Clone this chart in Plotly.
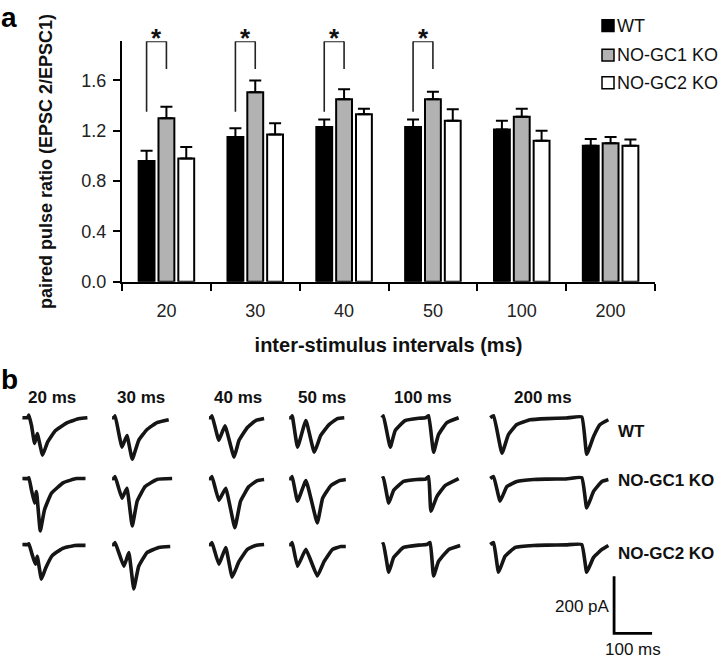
import plotly.graph_objects as go

# ---------------- data: panel a ----------------
intervals = ["20", "30", "40", "50", "100", "200"]
genotypes = ["WT", "NO-GC1 KO", "NO-GC2 KO"]
wt_mean = [0.96, 1.15, 1.23, 1.23, 1.21, 1.08]
wt_sem = [0.08, 0.07, 0.06, 0.06, 0.07, 0.055]
gc1_mean = [1.30, 1.505, 1.45, 1.45, 1.31, 1.10]
gc1_sem = [0.09, 0.095, 0.08, 0.06, 0.065, 0.05]
gc2_mean = [0.98, 1.17, 1.33, 1.28, 1.12, 1.08]
gc2_sem = [0.09, 0.09, 0.045, 0.09, 0.08, 0.05]
significant = ["20", "30", "40", "50"]  # WT vs NO-GC1 KO, p<0.05
y_ticks = [0.0, 0.4, 0.8, 1.2, 1.6]

# ---------------- data: panel b (example traces, ms / pA rel. to baseline) ----------------
trace_t = {
    "20": [[0, 14, 17, 24, 32, 39, 53, 66, 87, 118, 150, 171],
           [0, 14, 17, 24, 32, 37, 47, 58, 76, 108, 142, 166],
           [0, 14, 17, 24, 34, 39, 50, 61, 79, 105, 137, 166]],
    "30": [[0, 5, 8, 26, 39, 53, 70, 92, 118, 149],
           [0, 5, 8, 26, 39, 53, 66, 87, 118, 158],
           [0, 5, 8, 31, 44, 57, 70, 92, 123, 153]],
    "40": [[0, 5, 8, 26, 42, 66, 79, 101, 123, 145],
           [0, 5, 8, 26, 44, 68, 83, 105, 127, 145],
           [0, 5, 8, 26, 44, 61, 79, 101, 123, 145]],
    "50": [[0, 5, 8, 22, 44, 66, 83, 105, 127, 145],
           [0, 5, 8, 22, 44, 74, 88, 110, 132, 149],
           [0, 5, 8, 22, 44, 74, 92, 114, 136, 149]],
    "100": [[0, 4, 22, 35, 61, 97, 115, 123, 136, 149, 171, 202],
            [0, 4, 18, 31, 57, 92, 115, 123, 129, 145, 167, 202],
            [0, 4, 18, 31, 57, 97, 118, 127, 136, 149, 176, 206]],
    "200": [[0, 9, 31, 48, 70, 105, 150, 200, 241, 254, 272, 289, 311],
            [0, 9, 26, 44, 70, 114, 150, 200, 241, 254, 272, 294, 311],
            [0, 9, 22, 39, 66, 114, 150, 200, 241, 254, 272, 294, 311]],
}
trace_i = {
    "20": [[0, 0, 9, -28, -90, -55, -131, -86, -45, -17, -3, 0],
           [0, 0, 3, -41, -86, -45, -183, -110, -52, -14, 0, 0],
           [0, 0, 3, -28, -69, -41, -121, -83, -38, -14, -3, -3]],
    "30": [[0, 0, 7, -103, -62, -145, -79, -41, -17, -7],
           [0, 0, 7, -69, -34, -166, -79, -28, -3, 0],
           [0, 0, 7, -76, -28, -155, -76, -28, -10, -7]],
    "40": [[0, 0, 7, -79, -28, -138, -79, -34, -10, -3],
           [0, 0, 7, -76, -34, -172, -79, -28, -7, -3],
           [0, 0, 7, -69, -10, -114, -59, -17, -3, 0]],
    "50": [[0, 0, 7, -103, -10, -121, -62, -24, -3, 0],
           [0, 0, 7, -79, -7, -155, -69, -24, -7, -3],
           [0, 0, 7, -76, -17, -110, -59, -17, -7, -7]],
    "100": [[0, 7, -103, -45, -10, -2, 0, 7, -121, -59, -17, 0],
            [0, 3, -86, -41, -10, -3, -2, 7, -114, -62, -24, 0],
            [0, 3, -97, -45, -10, -2, 0, 7, -110, -59, -17, -3]],
    "200": [[0, 7, -124, -59, -24, -7, -3, -1, 3, -128, -66, -24, -7],
            [0, 7, -79, -28, -10, -3, -2, -1, 3, -103, -45, -10, -3],
            [0, 7, -97, -41, -10, -3, -2, -1, 0, -97, -45, -17, -3]],
}
scale_pA = 200
scale_ms = 100

# ---------------- layout constants ----------------
W, H = 720, 667
FONT = "Liberation Sans, Arial, sans-serif"
bargap, bargroupgap = 0.33, 0.2
slot = (1 - bargap) / 3

def px_x(p):
    return p / W

def px_y(p):
    return 1 - p / H

# panel b coordinate system (ms horizontally, pA vertically)
MS_PER_PX = 100 / 38.0
PA_PER_PX = 200 / 58.0
b_top_px = 360
col_start_ms = [59, 295, 550, 761, 1005, 1290]
row_base_pA = [-221, -434, -665]

fig = go.Figure()

colors = ["#000000", "#b2b2b2", "#ffffff"]
for name, mean, sem, col in zip(genotypes, [wt_mean, gc1_mean, gc2_mean],
                                [wt_sem, gc1_sem, gc2_sem], colors):
    fig.add_trace(go.Bar(
        x=intervals, y=mean, name=name,
        marker=dict(color=col, line=dict(color="#000000", width=2)),
        error_y=dict(type="data", symmetric=False, array=sem,
                     arrayminus=[0] * len(sem), color="#000000",
                     thickness=2, width=6),
        xaxis="x", yaxis="y", showlegend=False,
    ))

# significance brackets
shapes = []
annotations = []
for cat in significant:
    k = intervals.index(cat)
    xl, xr = k - slot, k
    shapes.append(dict(type="line", xref="x", yref="y", x0=xl, x1=xl, y0=1.35, y1=1.91,
                       line=dict(color="#222", width=1.6)))
    shapes.append(dict(type="line", xref="x", yref="y", x0=xl, x1=xr, y0=1.91, y1=1.91,
                       line=dict(color="#222", width=1.6)))
    shapes.append(dict(type="line", xref="x", yref="y", x0=xr, x1=xr, y0=1.91, y1=1.69,
                       line=dict(color="#222", width=1.6)))
    annotations.append(dict(text="<b>*</b>", x=(xl + xr) / 2, y=1.91, xref="x", yref="y",
                            showarrow=False, yanchor="bottom", yshift=-14,
                            font=dict(size=26, color="#111", family=FONT)))

# custom legend
leg_centers = [26, 56, 84]
for (name, col, cy) in zip(genotypes, colors, leg_centers):
    shapes.append(dict(type="rect", xref="paper", yref="paper",
                       x0=px_x(602), x1=px_x(614), y0=px_y(cy + 6), y1=px_y(cy - 6),
                       fillcolor=col, line=dict(color="#000", width=1.5)))
    annotations.append(dict(text=name, x=px_x(615), y=px_y(cy), xref="paper", yref="paper",
                            xanchor="left", yanchor="middle", showarrow=False,
                            font=dict(size=18, color="#111", family=FONT)))

# panel labels
annotations.append(dict(text="<b>a</b>", x=px_x(-1), y=px_y(0), xref="paper", yref="paper",
                        xanchor="left", yanchor="top", showarrow=False,
                        font=dict(size=28, color="#000", family=FONT)))
annotations.append(dict(text="<b>b</b>", x=px_x(-1), y=px_y(368), xref="paper", yref="paper",
                        xanchor="left", yanchor="top", showarrow=False,
                        font=dict(size=28, color="#000", family=FONT)))

# ---------------- panel b traces ----------------
for c, cat in enumerate(intervals):
    for r in range(3):
        t = trace_t[cat][r]
        i = trace_i[cat][r]
        fig.add_trace(go.Scatter(
            x=[col_start_ms[c] + v for v in t],
            y=[row_base_pA[r] + v for v in i],
            mode="lines", xaxis="x2", yaxis="y2", showlegend=False, hoverinfo="skip",
            line=dict(color="#151515", width=3.6, shape="spline", smoothing=0.35),
        ))

# column labels
col_label_x = [137, 371, 626, 847, 1113, 1429]
for cat, xm in zip(intervals, col_label_x):
    annotations.append(dict(text=f"<b>{cat} ms</b>", x=xm, y=-150, xref="x2", yref="y2",
                            showarrow=False, font=dict(size=17, color="#111", family=FONT)))
# row labels
row_label_y = [-269, -441, -697]
for g, ym in zip(genotypes, row_label_y):
    annotations.append(dict(text=f"<b>{g}</b>", x=1622, y=ym, xref="x2", yref="y2",
                            xanchor="left", showarrow=False,
                            font=dict(size=17, color="#111", family=FONT)))

# scale bar
sb_x, sb_y = 1616, -976
fig.add_trace(go.Scatter(
    x=[sb_x, sb_x, sb_x + scale_ms], y=[sb_y + scale_pA, sb_y, sb_y],
    mode="lines", xaxis="x2", yaxis="y2", showlegend=False, hoverinfo="skip",
    line=dict(color="#000", width=2.8),
))
annotations.append(dict(text=f"{scale_pA} pA", x=sb_x - 6, y=sb_y + scale_pA / 2 - 6, xref="x2", yref="y2",
                        xanchor="right", showarrow=False,
                        font=dict(size=17, color="#111", family=FONT)))
annotations.append(dict(text=f"{scale_ms} ms", x=sb_x + scale_ms / 2, y=sb_y - 58, xref="x2", yref="y2",
                        showarrow=False, font=dict(size=17, color="#111", family=FONT)))

fig.update_layout(
    width=W, height=H, margin=dict(l=0, r=0, t=0, b=0),
    paper_bgcolor="white", plot_bgcolor="white",
    barmode="group", bargap=bargap, bargroupgap=bargroupgap,
    font=dict(family=FONT, color="#111"),
    shapes=shapes, annotations=annotations,
    xaxis=dict(domain=[px_x(122), px_x(655)], anchor="y", type="category",
               categoryorder="array", categoryarray=intervals,
               range=[-0.5, 5.5], tickson="boundaries", ticks="outside", ticklen=7,
               tickwidth=2, tickcolor="#000", showline=True, linecolor="#000", linewidth=2,
               showgrid=False, zeroline=False, fixedrange=True, ticklabelstandoff=12,
               tickfont=dict(size=18, color="#222", family=FONT),
               title=dict(text="<b>inter-stimulus intervals (ms)</b>", standoff=18,
                          font=dict(size=20, color="#111", family=FONT))),
    yaxis=dict(domain=[px_y(286), px_y(42)], anchor="x", range=[0, 1.91],
               tickvals=y_ticks, tickformat=".1f", ticks="outside", ticklen=7,
               tickwidth=2, tickcolor="#000", showline=True, linecolor="#000", linewidth=2,
               showgrid=False, zeroline=False, fixedrange=True, ticklabelstandoff=3,
               tickfont=dict(size=18, color="#222", family=FONT),
               title=dict(text="<b>paired pulse ratio (EPSC 2/EPSC1)</b>", standoff=24,
                          font=dict(size=18, color="#111", family=FONT))),
    xaxis2=dict(domain=[0, 1], anchor="y2", range=[0, W * MS_PER_PX], visible=False,
                fixedrange=True),
    yaxis2=dict(domain=[0, px_y(b_top_px)], anchor="x2",
                range=[-(H - b_top_px) * PA_PER_PX, 0], visible=False, fixedrange=True),
)

fig.write_html("out.html", config={"displayModeBar": False},
               post_script="document.body.style.margin='0';")
